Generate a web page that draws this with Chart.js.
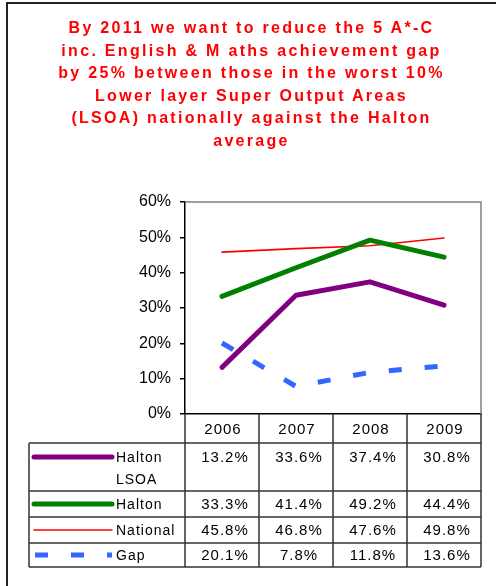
<!DOCTYPE html>
<html>
<head>
<meta charset="utf-8">
<script src="https://cdn.jsdelivr.net/npm/chart.js@4"></script>
<style>
  html, body { margin: 0; padding: 0; background: #fff; }
  #wrap { position: relative; width: 496px; height: 586px; overflow: hidden; }
  #gap_chart { position: absolute; left: 0; top: 0; }
  #title {
    position: absolute; left: 7px; right: 0; top: 17px;
    text-align: center; color: #ff0000;
    font: bold 16px "Liberation Sans", Arial, sans-serif;
    line-height: 22.5px; letter-spacing: 2.3px;
  }
</style>
</head>
<body>
<div id="wrap">
  <canvas id="gap_chart" width="496" height="586"></canvas>
  <div id="title">By 2011 we want to reduce the 5 A*-C<br>inc. English &amp; M aths achievement gap<br>by 25% between those in the worst 10%<br>Lower layer Super Output Areas<br>(LSOA) nationally against the Halton<br>average</div>
</div>
<script>
/* 데이터 */
let years = ['2006', '2007', '2008', '2009'];
let seriesNames = [['Halton', 'LSOA'], ['Halton'], ['National'], ['Gap']];
let lsoaValues = [13.2, 33.6, 37.4, 30.8];
let haltonValues = [33.3, 41.4, 49.2, 44.4];
let nationalValues = [45.8, 46.8, 47.6, 49.8];
let gapValues = [20.1, 7.8, 11.8, 13.6];
let yTicks = [0, 10, 20, 30, 40, 50, 60];

let allValues = [lsoaValues, haltonValues, nationalValues, gapValues];
let colors = ['#800080', '#008000', '#ff0000', '#3366ff'];
let widths = [5, 5, 1.6, 5];
let dashes = [[], [], [], [13, 23]];

/* 표 + 테두리 그리기 */
let tablePlugin = {
  id: 'tablePlugin',
  beforeDraw(chart) {
    let ctx = chart.ctx;
    ctx.save();
    ctx.fillStyle = '#fff';
    ctx.fillRect(0, 0, chart.width, chart.height);
    // 바깥 테두리
    ctx.strokeStyle = '#222';
    ctx.lineWidth = 2;
    ctx.beginPath();
    ctx.moveTo(7, chart.height);
    ctx.lineTo(7, 3);
    ctx.lineTo(chart.width, 3);
    ctx.stroke();
    ctx.restore();
  },
  afterDraw(chart) {
    let ctx = chart.ctx;
    let area = chart.chartArea;
    let x = chart.scales.x;
    let colW = (x.right - x.left) / years.length;
    let rows = [443, 491, 517, 543, 567]; // 행 경계
    let tableLeft = 29;

    ctx.save();
    // 그래프 위, 오른쪽 회색 테두리
    ctx.strokeStyle = '#808080';
    ctx.lineWidth = 1.5;
    ctx.beginPath();
    ctx.moveTo(area.left, area.top);
    ctx.lineTo(area.right, area.top);
    ctx.lineTo(area.right, area.bottom);
    ctx.stroke();

    ctx.strokeStyle = '#333';
    ctx.lineWidth = 1.5;
    ctx.beginPath();
    // 헤더 세로선
    for (let i = 0; i <= years.length; i++) {
      let bx = x.left + i * colW;
      ctx.moveTo(bx, area.bottom);
      ctx.lineTo(bx, rows[0]);
    }
    // 가로선
    for (let r = 0; r < rows.length; r++) {
      ctx.moveTo(tableLeft, rows[r]);
      ctx.lineTo(x.right, rows[r]);
    }
    // 세로선
    ctx.moveTo(tableLeft, rows[0]);
    ctx.lineTo(tableLeft, rows[rows.length - 1]);
    for (let i = 0; i <= years.length; i++) {
      let bx = x.left + i * colW;
      ctx.moveTo(bx, rows[0]);
      ctx.lineTo(bx, rows[rows.length - 1]);
    }
    ctx.stroke();

    ctx.fillStyle = '#000';
    ctx.font = '15px "Liberation Sans", Arial, sans-serif';
    ctx.letterSpacing = '1px';
    ctx.textBaseline = 'middle';
    ctx.textAlign = 'center';
    // 연도
    years.forEach((y, i) => {
      ctx.fillText(y, x.getPixelForValue(i) + 1, (area.bottom + rows[0]) / 2 + 1);
    });
    // 값
    allValues.forEach((vals, s) => {
      let cy = (s === 0 ? rows[0] + 14 : (rows[s] + rows[s + 1]) / 2) + 1;
      vals.forEach((v, i) => {
        ctx.fillText(v.toFixed(1) + '%', x.getPixelForValue(i) + 3, cy);
      });
    });

    // 범례
    ctx.textAlign = 'left';
    ctx.font = '14px "Liberation Sans", Arial, sans-serif';
    seriesNames.forEach((name, s) => {
      let cy = s === 0 ? rows[0] + 14 : (rows[s] + rows[s + 1]) / 2;
      ctx.save();
      ctx.strokeStyle = colors[s];
      ctx.lineWidth = widths[s];
      ctx.lineCap = dashes[s].length ? 'butt' : 'round';
      ctx.setLineDash(dashes[s]);
      ctx.beginPath();
      ctx.moveTo(dashes[s].length ? 35 : 34, cy);
      ctx.lineTo(112, cy);
      ctx.stroke();
      ctx.restore();
      name.forEach((t, k) => {
        ctx.fillText(t, 116, cy + 1 + k * 22);
      });
    });
    ctx.restore();
  }
};

new Chart(document.getElementById('gap_chart'), {
  type: 'line',
  data: {
    labels: years,
    datasets: allValues.map((vals, s) => ({
      label: seriesNames[s].join(' '),
      data: vals,
      borderColor: colors[s],
      borderWidth: widths[s],
      borderDash: dashes[s],
      borderCapStyle: dashes[s].length ? 'butt' : 'round',
      borderJoinStyle: 'round',
      pointRadius: 0,
      fill: false,
      tension: 0
    }))
  },
  options: {
    responsive: false,
    animation: false,
    layout: { padding: { left: 0, right: 15, top: 202, bottom: 172 } },
    plugins: {
      legend: { display: false },
      title: { display: false },
      tooltip: { enabled: false }
    },
    scales: {
      x: {
        offset: true,
        ticks: { display: false },
        grid: { display: false, drawTicks: false },
        border: { display: true, color: '#000', width: 1.5 },
        afterFit: function(scale) { scale.height = 0; }
      },
      y: {
        min: 0,
        max: 60,
        afterBuildTicks: function(scale) {
          scale.ticks = yTicks.map(v => ({ value: v }));
        },
        afterFit: function(scale) { scale.width = 185; },
        ticks: {
          color: '#000',
          padding: 9,
          font: { family: '"Liberation Sans", Arial, sans-serif', size: 16 },
          callback: function(value) { return value + '%'; }
        },
        grid: { drawOnChartArea: false, drawTicks: true, tickLength: 5, color: '#000', lineWidth: 1.5 },
        border: { display: true, color: '#000', width: 1.5 }
      }
    }
  },
  plugins: [tablePlugin]
});
</script>
</body>
</html>
